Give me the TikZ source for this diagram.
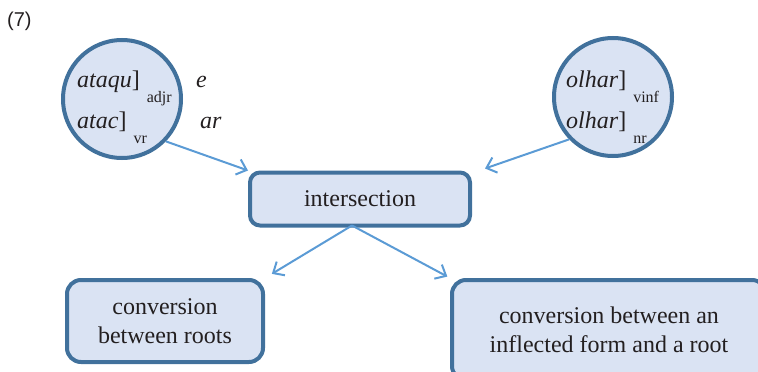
\documentclass[tikz,border=0pt]{standalone}
\usepackage{fontspec}
\setmainfont{Liberation Serif}
\newfontfamily\labelfont{Liberation Sans}
\usetikzlibrary{arrows.meta,positioning}
\definecolor{edgeblue}{HTML}{41719C}
\definecolor{fillblue}{HTML}{DAE3F3}
\definecolor{arrowblue}{HTML}{5B9BD5}
\definecolor{inkblack}{HTML}{231F20}

\tikzset{
    rootcirc/.style={circle, draw=edgeblue, fill=fillblue, line width=4pt, minimum size=118pt, inner sep=0pt},
    stepbox/.style={rectangle, rounded corners=12pt, draw=edgeblue, fill=fillblue, line width=4pt, align=center, text=inkblack, font=\fontsize{24}{29}\selectfont},
    form/.style={anchor=base west, inner sep=0pt, text=inkblack, font=\fontsize{24}{29}\selectfont},
    flow/.style={draw=arrowblue, line width=2pt, -{Straight Barb[length=9pt,width=16pt,line width=2pt]}}
}
\newcommand{\rootsub}[1]{\raisebox{-15pt}{\fontsize{16}{16}\selectfont #1}}

\begin{document}
\begin{tikzpicture}[x=1pt,y=-1pt]
    \useasboundingbox (0,0) rectangle (758,372);
    \clip (0,0) rectangle (758,372);

    \node[anchor=north west, inner sep=0pt, text=inkblack, font=\labelfont\fontsize{20}{20}\selectfont] (exnum) at (7,12) {(7)};

    % the two roots
    \node[rootcirc] (lroot) at (122,99) {};
    \node[rootcirc] (rroot) at (613,97) {};

    \node[form] (adj) at (77,87) {\textit{ataqu}]\hspace{7pt}\rootsub{adjr}};
    \node[form] (vrb) at (77,128) {\textit{atac}]\hspace{7pt}\rootsub{vr}};
    \node[form] (sfxe) at (196,87) {\textit{e}};
    \node[form] (sfxar) at (200,128) {\textit{ar}};

    \node[form] (inf) at (566,87) {\textit{olhar}]\hspace{7pt}\rootsub{vinf}};
    \node[form] (noun) at (566,128) {\textit{olhar}]\hspace{7pt}\rootsub{nr}};

    % the steps
    \node[stepbox, rounded corners=10pt, minimum width=220pt, minimum height=53pt] (isect) at (360,199) {intersection};
    \node[stepbox, rounded corners=14pt, minimum width=196pt, minimum height=82pt] (convL) at (165,321) {conversion\\between roots};
    \node[stepbox, rounded corners=14pt, minimum width=314pt, minimum height=100pt] (convR) at (609,330) {conversion between an\\inflected form and a root};

    \draw[flow] (lroot.-44) -- (isect.north west);
    \draw[flow] (rroot.224) -- ([xshift=13pt,yshift=2pt]isect.north east);
    \draw[flow, shorten >=8pt] ([xshift=-8pt,yshift=2pt]isect.south) -- (convL.north east);
    \draw[flow, shorten >=3pt] ([xshift=-8pt,yshift=2pt]isect.south) -- (convR.north west);
\end{tikzpicture}
\end{document}
